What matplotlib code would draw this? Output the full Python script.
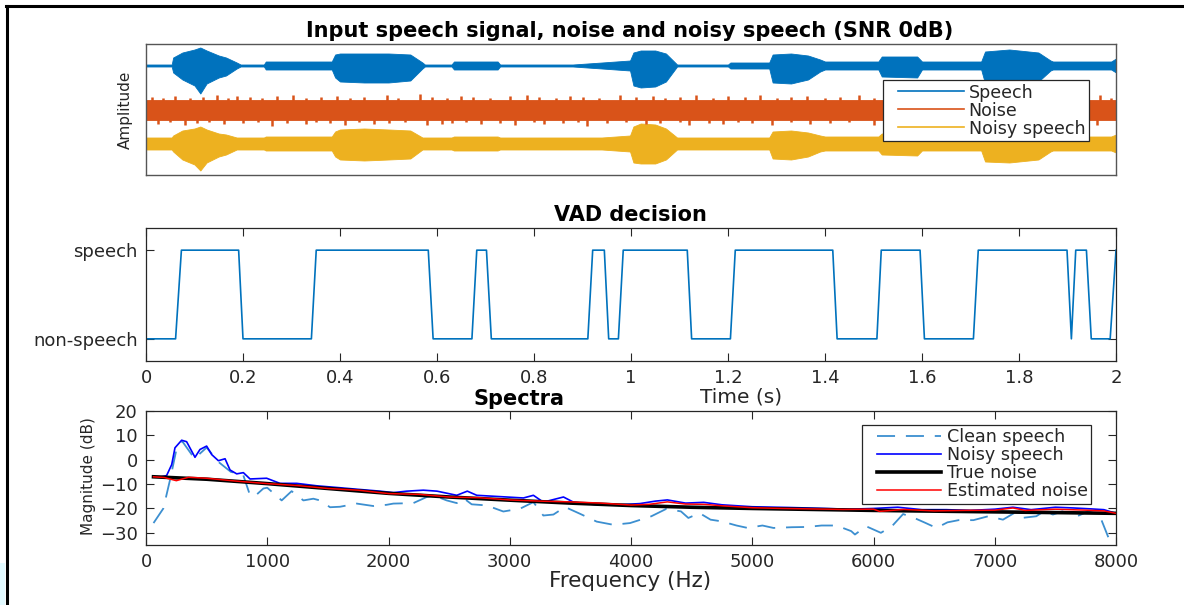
import numpy as np
import matplotlib
matplotlib.use('Agg')
import matplotlib.pyplot as plt
from matplotlib.lines import Line2D
from matplotlib.patches import Rectangle
from matplotlib.legend_handler import HandlerLine2D

# ---------------- data ----------------
# Waveform envelopes (upper / lower extent in amplitude units) at break-point times (s)
speech_t = [0, 0.053, 0.056, 0.075, 0.10, 0.112, 0.125, 0.15, 0.165, 0.187,
            0.195, 0.243, 0.247, 0.383, 0.39, 0.40, 0.45, 0.50, 0.545, 0.57,
            0.575, 0.630, 0.635, 0.725, 0.73, 0.88, 0.94, 0.998, 1.005, 1.02,
            1.05, 1.072, 1.095, 1.20, 1.205, 1.285, 1.292, 1.33, 1.365, 1.39,
            1.40, 1.51, 1.517, 1.59, 1.60, 1.722, 1.73, 1.78, 1.84, 1.865,
            1.87, 1.99, 2.0]
speech_up = [1, 1, 8, 13, 16, 18, 15, 10, 8, 3,
             1, 1, 4, 4, 11, 12, 12, 12, 11, 3,
             1, 1, 4, 4, 1, 1, 3, 5, 13, 15,
             15, 12, 1, 1, 3, 3, 11, 12, 10, 6,
             4, 4, 9, 9, 4, 4, 14, 16, 13, 5,
             4, 4, 7]
speech_dn = [1, 1, 7, 14, 20, 28, 18, 12, 10, 3,
             1, 1, 4, 4, 12, 16, 17, 17, 15, 3,
             1, 1, 4, 4, 1, 1, 3, 5, 20, 22,
             21, 16, 1, 1, 3, 3, 17, 18, 14, 6,
             4, 4, 11, 12, 4, 4, 18, 19, 16, 5,
             4, 4, 7]
noisy_t = speech_t
noisy_up = [6, 6, 8, 13, 15, 17, 14, 10, 9, 6,
            6, 6, 7, 7, 12, 14, 15, 14, 13, 6,
            6, 6, 7, 7, 6, 6, 6, 8, 17, 20,
            19, 15, 6, 6, 6, 6, 12, 13, 11, 8,
            7, 7, 10, 10, 7, 7, 13, 14, 12, 8,
            7, 7, 9]
noisy_dn = [6, 6, 8, 16, 21, 27, 19, 13, 11, 6,
            6, 6, 7, 7, 13, 16, 17, 16, 15, 6,
            6, 6, 7, 7, 6, 6, 6, 8, 19, 20,
            20, 16, 6, 6, 6, 6, 15, 16, 13, 8,
            7, 7, 11, 12, 7, 7, 18, 19, 16, 8,
            7, 7, 9]
noise_t = [0, 2]
noise_up = [10, 10]
noise_dn = [10, 10]
noise_spike_up_t = [0.012, 0.035, 0.06, 0.09, 0.118, 0.146, 0.17, 0.187, 0.215, 0.24,
                    0.27, 0.304, 0.33, 0.36, 0.393, 0.42, 0.45, 0.496, 0.52, 0.565,
                    0.59, 0.62, 0.65, 0.675, 0.71, 0.75, 0.785, 0.81, 0.845, 0.874,
                    0.9, 0.935, 0.977, 1.01, 1.046, 1.07, 1.1, 1.135, 1.17, 1.2,
                    1.235, 1.266, 1.3, 1.33, 1.362, 1.4, 1.43, 1.47, 1.5, 1.54,
                    1.58, 1.62, 1.66, 1.7, 1.75, 1.78, 1.82, 1.86, 1.9, 1.935,
                    1.967, 1.99]
noise_spike_up = [13, 12, 14, 12, 13, 15, 12, 14, 13, 12,
                  14, 15, 12, 13, 14, 12, 13, 15, 12, 16,
                  13, 12, 14, 13, 12, 14, 15, 13, 12, 14,
                  13, 12, 15, 13, 14, 12, 13, 15, 12, 14,
                  13, 15, 12, 13, 14, 12, 13, 15, 12, 14,
                  13, 15, 12, 13, 14, 12, 13, 14, 12, 13,
                  15, 12]
noise_spike_dn_t = [0.025, 0.05, 0.08, 0.105, 0.13, 0.16, 0.2, 0.23, 0.26, 0.29,
                    0.33, 0.35, 0.38, 0.41, 0.44, 0.47, 0.5, 0.535, 0.58, 0.61,
                    0.63, 0.66, 0.69, 0.73, 0.76, 0.8, 0.82, 0.86, 0.89, 0.91,
                    0.95, 0.99, 1.03, 1.06, 1.1, 1.12, 1.16, 1.19, 1.22, 1.25,
                    1.29, 1.33, 1.37, 1.41, 1.45, 1.5, 1.53, 1.57, 1.6, 1.64,
                    1.68, 1.72, 1.76, 1.8, 1.84, 1.88, 1.93, 1.96]
noise_spike_dn = [14, 12, 15, 13, 12, 14, 13, 12, 16, 13,
                  14, 12, 13, 15, 12, 14, 13, 12, 15, 14,
                  13, 12, 14, 13, 15, 12, 14, 13, 12, 16,
                  13, 12, 14, 13, 12, 15, 13, 14, 12, 13,
                  15, 12, 14, 13, 12, 15, 13, 14, 12, 13,
                  15, 12, 14, 13, 12, 14, 13, 15]
wave_labels = ['Speech', 'Noise', 'Noisy speech']

# VAD decision (vertices of the decision line)
vad_t = [0, 0.061, 0.073, 0.191, 0.200, 0.341, 0.351, 0.582, 0.592, 0.672,
         0.682, 0.702, 0.712, 0.911, 0.921, 0.945, 0.954, 0.974, 0.984, 1.116,
         1.125, 1.205, 1.215, 1.416, 1.425, 1.507, 1.516, 1.596, 1.605, 1.706,
         1.716, 1.899, 1.908, 1.917, 1.939, 1.949, 1.988, 2.0]
vad_v = [0, 0, 1, 1, 0, 0, 1, 1, 0, 0,
         1, 1, 0, 0, 1, 1, 0, 0, 1, 1,
         0, 0, 1, 1, 0, 0, 1, 1, 0, 0,
         1, 1, 0, 1, 1, 0, 0, 1]
vad_ticklabels = ['non-speech', 'speech']
time_ticks = [0, 0.2, 0.4, 0.6, 0.8, 1, 1.2, 1.4, 1.6, 1.8, 2]
time_ticklabels = ['0', '0.2', '0.4', '0.6', '0.8', '1', '1.2', '1.4', '1.6', '1.8', '2']

# Spectra
clean_f = [62, 143, 198, 250, 300, 400, 500, 600, 700, 800,
           858, 899, 968, 1000, 1119, 1201, 1298, 1380, 1435, 1518,
           1600, 1738, 1875, 1985, 2040, 2205, 2315, 2370, 2480, 2563,
           2617, 2686, 2810, 2947, 3085, 3195, 3277, 3360, 3456, 3580,
           3717, 3854, 3992, 4168, 4290, 4412, 4473, 4565, 4656, 4748,
           4870, 4962, 5084, 5175, 5328, 5450, 5572, 5694, 5816, 5847,
           5939, 6061, 6152, 6244, 6336, 6427, 6519, 6610, 6702, 6824,
           6946, 7068, 7160, 7221, 7343, 7404, 7480, 7557, 7679, 7770,
           7862, 7954, 8000]
clean_db = [-26, -20, -8.3, 4, 7.5, 0.5, 5, -1, -5, -6,
            -14.6, -14.9, -11.8, -11.5, -16.7, -12.9, -16.7, -16, -16.7, -19.5,
            -19.3, -18, -19, -18.5, -18, -17.8, -15.3, -14.6, -16.7, -17.8,
            -15.7, -18.3, -18.75, -21.25, -20.1, -17.4, -22.9, -22.5, -19.4, -22.2,
            -25.4, -26.7, -26, -23.2, -20.2, -21.2, -23.9, -21.9, -24.6, -25.3,
            -27, -28, -27, -28, -27.7, -27.6, -27, -27, -29.3, -30.7,
            -27.3, -30, -27.3, -22.3, -23.9, -25.9, -28, -25.7, -24.8, -24.8,
            -23.2, -24.6, -21.9, -23.9, -23.2, -21.2, -22.5, -21.2, -23.2, -21.2,
            -22.5, -34, -37]
noisy_f = [62, 125, 170, 212, 239, 294, 335, 404, 445, 500,
           542, 597, 652, 693, 748, 803, 858, 995, 1105, 1243,
           1408, 1600, 1738, 1930, 2040, 2150, 2287, 2400, 2563, 2650,
           2728, 2975, 3113, 3195, 3277, 3443, 3525, 3717, 3900, 4074,
           4200, 4300, 4450, 4600, 4750, 5000, 5300, 5600, 5800, 6000,
           6200, 6400, 6600, 6800, 7000, 7150, 7300, 7500, 7650, 7800,
           7900, 8000]
noisy_db = [-7, -7, -6.5, -2, 4.9, 8.0, 7.4, 1.0, 4.2, 5.6,
            2.1, -0.4, 0.4, -4.2, -5.8, -5.3, -7.9, -7.6, -9.7, -9.7,
            -10.7, -11.5, -12.1, -12.9, -13.5, -12.9, -12.5, -12.9, -14.6, -12.9,
            -14.6, -15.3, -15.7, -14.6, -17.4, -15.3, -17.4, -18.5, -18.5, -18,
            -17, -16.5, -17.8, -17.5, -18.5, -19.3, -19.6, -20.0, -20.3, -20.0,
            -19.5, -20.5, -20.5, -20.8, -20.3, -19.5, -20.5, -19.5, -19.8, -20.2,
            -20.5, -22]
true_f = [62, 500, 1000, 1500, 2000, 2500, 3000, 3500, 4000, 4500,
          5000, 5500, 6000, 6500, 7000, 7500, 8000]
true_db = [-7, -8, -9.8, -11.8, -13.8, -15.3, -16.6, -17.8, -18.8, -19.5,
           -20, -20.4, -20.8, -21.1, -21.4, -21.7, -22]
est_f = [62, 150, 250, 350, 500, 750, 1000, 1250, 1500, 1750,
         2000, 2250, 2500, 2750, 3000, 3250, 3500, 3750, 4000, 4150,
         4300, 4450, 4600, 4750, 5000, 5250, 5500, 5750, 6000, 6050,
         6250, 6500, 6750, 7000, 7150, 7250, 7500, 7750, 7900, 8000]
est_db = [-7, -7.3, -8.6, -7.2, -7.6, -8.8, -9.8, -10.6, -11.8, -12.5,
          -13.9, -14.2, -15.3, -15.6, -16.5, -17, -17.3, -17.8, -18.6, -18.3,
          -17.3, -18.2, -18.3, -18.9, -19.7, -20, -20.2, -20.4, -20.3, -21.2,
          -20.4, -21, -20.8, -20.7, -19.8, -20.8, -20.3, -20.7, -21, -22]
spec_labels = ['Clean speech', 'Noisy speech', 'True noise', 'Estimated noise']
freq_ticks = [0, 1000, 2000, 3000, 4000, 5000, 6000, 7000, 8000]
db_ticks = [-30, -20, -10, 0, 10, 20]

# ---------------- style ----------------
plt.rcParams['font.family'] = ['DejaVu Sans']
W, H = 1184, 605
C_SPEECH = '#0072BD'
C_NOISE = '#D95319'
C_NOISY = '#EDB120'
C_CLEAN = '#3C8FD0'
C_AX = '#262626'
FS = 13
FS_TITLE = 15
FS_LEG = 12.6

fig = plt.figure(figsize=(W / 100, H / 100), dpi=100)


def box(l, t, r, b):
    return [l / W, 1 - b / H, (r - l) / W, (b - t) / H]


def style_axes(ax):
    for s in ax.spines.values():
        s.set_color(C_AX)
        s.set_linewidth(0.9)
    ax.tick_params(direction='in', top=True, right=True, length=6, width=0.8,
                   color=C_AX, labelcolor=C_AX, labelsize=FS, pad=6)


def make_legend(ax, handles, labels, left_px, top_px, ax_l, ax_t, ax_w, ax_h, hlen):
    leg = ax.legend(handles, labels, loc='upper left',
                    bbox_to_anchor=((left_px - ax_l) / ax_w, 1 - (top_px - ax_t) / ax_h),
                    fontsize=FS_LEG, frameon=True, fancybox=False, framealpha=1,
                    edgecolor=C_AX, handlelength=hlen, handletextpad=0.3,
                    labelspacing=0.0, borderpad=0.2, borderaxespad=0,
                    handler_map={Line2D: HandlerLine2D(xpad=0.65)})
    leg.get_frame().set_linewidth(0.9)
    for tx in leg.get_texts():
        tx.set_color(C_AX)
    return leg


# ---------- panel 1: waveforms ----------
ax1 = fig.add_axes(box(146, 44, 1116, 175))
off_speech, off_noise, off_noisy = 44, 0, -34
series = [(speech_t, speech_up, speech_dn, off_speech, C_SPEECH),
          (noise_t, noise_up, noise_dn, off_noise, C_NOISE),
          (noisy_t, noisy_up, noisy_dn, off_noisy, C_NOISY)]
for tt, up, dn, off, c in series:
    tt = np.asarray(tt, float)
    up = np.asarray(up, float)
    dn = np.asarray(dn, float)
    ax1.fill_between(tt, off + up, off - dn, color=c, lw=0.6)
    ax1.plot([0, 2], [off, off], color=c, lw=1.2)
    if c == C_NOISE:
        ax1.vlines(noise_spike_up_t, off, off + np.asarray(noise_spike_up, float),
                   color=c, lw=1.8)
        ax1.vlines(noise_spike_dn_t, off, off - np.asarray(noise_spike_dn, float),
                   color=c, lw=1.8)
ax1.set_xlim(0, 2)
ax1.set_ylim(-65.5, 65.5)
ax1.set_xticks([])
ax1.set_yticks([])
for s in ax1.spines.values():
    s.set_color('#555555')
    s.set_linewidth(1.0)
h1 = [Line2D([], [], color=c, lw=1.2) for c in (C_SPEECH, C_NOISE, C_NOISY)]
make_legend(ax1, h1, wave_labels, 883, 80, 146, 44, 970, 131, 4.4)
fig.text(630 / W, 1 - 31 / H, 'Input speech signal, noise and noisy speech (SNR 0dB)',
         ha='center', va='center', fontsize=FS_TITLE, fontweight='bold', color='black')
fig.text(125 / W, 1 - 110 / H, 'Amplitude', rotation=90, ha='center', va='center',
         fontsize=11, color=C_AX)

# ---------- panel 2: VAD ----------
ax2 = fig.add_axes(box(146, 228, 1116, 361))
ax2.plot(vad_t, vad_v, color=C_SPEECH, lw=1.2)
ax2.set_xlim(0, 2)
ax2.set_ylim(-0.25, 1.25)
ax2.set_xticks(time_ticks)
ax2.set_xticklabels(time_ticklabels)
ax2.set_yticks([0, 1])
ax2.set_yticklabels(vad_ticklabels)
style_axes(ax2)
fig.text(630 / W, 1 - 215 / H, 'VAD decision', ha='center', va='center',
         fontsize=FS_TITLE, fontweight='bold', color='black')
fig.text(741 / W, 1 - 397 / H, 'Time (s)', ha='center', va='center',
         fontsize=14.5, color=C_AX)

# ---------- panel 3: spectra ----------
ax3 = fig.add_axes(box(146, 411, 1116, 545))
ax3.plot(clean_f, clean_db, color=C_CLEAN, lw=1.3, dashes=(10, 6))
ax3.plot(noisy_f, noisy_db, color='#0000FF', lw=1.2)
ax3.plot(true_f, true_db, color='black', lw=2.6)
ax3.plot(est_f, est_db, color='#FF0000', lw=1.1)
ax3.set_xlim(0, 8000)
ax3.set_ylim(-35, 20)
ax3.set_xticks(freq_ticks)
ax3.set_yticks(db_ticks)
style_axes(ax3)
h3 = [Line2D([], [], color=C_CLEAN, lw=1.3, dashes=(10, 6)),
      Line2D([], [], color='#0000FF', lw=1.2),
      Line2D([], [], color='black', lw=2.6),
      Line2D([], [], color='#FF0000', lw=1.1)]
make_legend(ax3, h3, spec_labels, 862, 425, 146, 411, 970, 134, 4.34)
fig.text(519 / W, 1 - 399 / H, 'Spectra', ha='center', va='center',
         fontsize=FS_TITLE, fontweight='bold', color='black')
fig.text(630 / W, 1 - 581 / H, 'Frequency (Hz)', ha='center', va='center',
         fontsize=15.5, color=C_AX)
fig.text(88 / W, 1 - 476 / H, 'Magnitude (dB)', rotation=90, ha='center', va='center',
         fontsize=11, color=C_AX)

# ---------- figure frame ----------
fig.add_artist(Line2D([6 / W, 1], [1 - 6 / H, 1 - 6 / H], color='black', lw=2.2))
fig.add_artist(Line2D([7 / W, 7 / W], [0, 1 - 6 / H], color='black', lw=2.2))
fig.add_artist(Rectangle((0, 0), 5 / W, 42 / H, color='#E2FAFF', lw=0))

fig.savefig('out.png', dpi=100)
